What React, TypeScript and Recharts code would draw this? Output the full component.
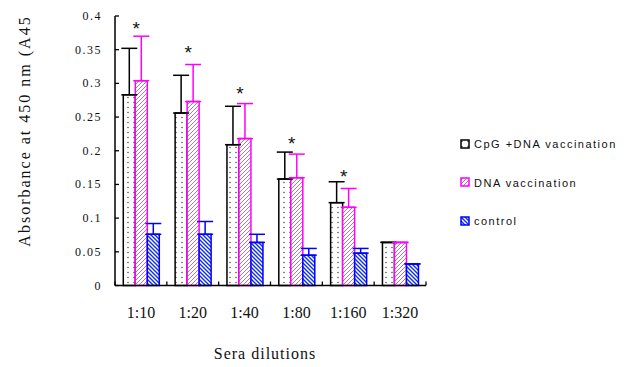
import React from 'react';
import { BarChart, Bar, XAxis, YAxis, ErrorBar, LabelList } from 'recharts';

const categories = ['1:10', '1:20', '1:40', '1:80', '1:160', '1:320'];
const cpgValues = [0.283, 0.256, 0.209, 0.158, 0.123, 0.064];
const cpgErrors = [0.069, 0.056, 0.057, 0.040, 0.031, 0];
const dnaValues = [0.304, 0.273, 0.218, 0.160, 0.116, 0.064];
const dnaErrors = [0.066, 0.055, 0.052, 0.035, 0.028, 0];
const controlValues = [0.076, 0.076, 0.064, 0.045, 0.048, 0.032];
const controlErrors = [0.016, 0.019, 0.012, 0.010, 0.007, 0];
const starLevels: (number | null)[] = [0.388, 0.352, 0.291, 0.217, 0.169, null];
const yTicks = [0, 0.05, 0.1, 0.15, 0.2, 0.25, 0.3, 0.35, 0.4];
const yTickLabels = ['0', '0.05', '0.1', '0.15', '0.2', '0.25', '0.3', '0.35', '0.4'];
const seriesNames = ['CpG +DNA vaccination', 'DNA vaccination', 'control'];

const data = categories.map((c, i) => ({
  name: c,
  cpg: cpgValues[i],
  cpgErr: [0, cpgErrors[i]],
  dna: dnaValues[i],
  dnaErr: [0, dnaErrors[i]],
  ctrl: controlValues[i],
  ctrlErr: [0, controlErrors[i]],
  star: starLevels[i],
}));

const serif = '"Liberation Serif", "Times New Roman", serif';
const sans = '"Liberation Sans", Arial, sans-serif';

const Patterns = () => (
  <svg width={0} height={0} style={{ position: 'absolute' }}>
    <defs>
      <pattern id="dots" patternUnits="userSpaceOnUse" width={6} height={5}>
        <rect width={6} height={5} fill="#fff" />
        <circle cx={2} cy={2.5} r={0.7} fill="#333" />
      </pattern>
      <pattern id="hatchPink" patternUnits="userSpaceOnUse" width={4} height={4}>
        <rect width={4} height={4} fill="#fff" />
        <path d="M-1,1 l2,-2 M0,4 l4,-4 M3,5 l2,-2" stroke="#b06890" strokeWidth={0.9} />
      </pattern>
      <pattern id="hatchBlue" patternUnits="userSpaceOnUse" width={4} height={4}>
        <rect width={4} height={4} fill="#fff" />
        <path d="M-1,3 l2,2 M0,0 l4,4 M3,-1 l2,2" stroke="#0a2cff" strokeWidth={1.4} />
      </pattern>
    </defs>
  </svg>
);

const YTick = (props: any) => {
  const { x, y, payload } = props;
  const ax = x + 8;
  return (
    <g>
      <line x1={ax} y1={y} x2={ax + 4} y2={y} stroke="#000" strokeWidth={1.3} />
      <text x={ax - 13} y={y + 4} textAnchor="end" fontFamily={serif} fontSize={12} letterSpacing={1.5} fill="#111">
        {yTickLabels[yTicks.indexOf(payload.value)] ?? String(payload.value)}
      </text>
    </g>
  );
};

const XTick = (props: any) => {
  const { x, y, payload, index } = props;
  const ay = y - 8;
  const off = payload.offset ?? 25.9;
  return (
    <g>
      <line x1={x - off} y1={ay} x2={x - off} y2={ay - 4} stroke="#000" strokeWidth={1.3} />
      {index === categories.length - 1 && (
        <line x1={x + off} y1={ay} x2={x + off} y2={ay - 4} stroke="#000" strokeWidth={1.3} />
      )}
      <text x={x} y={ay + 32} textAnchor="middle" fontFamily={serif} fontSize={16} fill="#111">
        {payload.value}
      </text>
    </g>
  );
};

const Star = (props: any) => {
  const { x, y, width, height, value, index } = props;
  if (value == null) return null;
  const v = cpgValues[index];
  const ppu = height / v;
  const sy = y + height - value * ppu;
  return (
    <text x={x + width + 1} y={sy + 11} textAnchor="middle" fontFamily={sans} fontSize={19} fill="#111">
      *
    </text>
  );
};

const swatches = [
  { fill: 'url(#dots)', stroke: '#000' },
  { fill: 'url(#hatchPink)', stroke: '#ff00ff' },
  { fill: 'url(#hatchBlue)', stroke: '#0000ff' },
];

const LegendBox = () => (
  <div style={{ position: 'absolute', left: 460, top: 125 }}>
    {seriesNames.map((n, i) => (
      <div key={n} style={{ display: 'flex', alignItems: 'center', height: 38.5 }}>
        <svg width={11} height={11} style={{ marginRight: 3 }}>
          <rect x={1} y={1} width={8} height={8} fill={swatches[i].fill} stroke={swatches[i].stroke} strokeWidth={1.5} />
        </svg>
        <span style={{ fontFamily: sans, fontSize: 11, letterSpacing: 1.5, color: '#111', whiteSpace: 'nowrap' }}>{n}</span>
      </div>
    ))}
  </div>
);

export default function App() {
  return (
    <div style={{ position: 'absolute', left: 0, top: 0, width: 633, height: 367, background: '#fff' }}>
      <Patterns />
      <BarChart
        width={633}
        height={367}
        data={data}
        margin={{ top: 16, right: 207, left: 55, bottom: 51.5 }}
        barCategoryGap="16%"
        barGap={0}
      >
        <XAxis
          dataKey="name"
          height={30}
          tickSize={0}
          tickMargin={8}
          tickLine={false}
          tick={<XTick />}
          interval={0}
          axisLine={{ stroke: '#000', strokeWidth: 1.5 }}
          label={{
            content: () => (
              <text x={265} y={359} textAnchor="middle" fontFamily={serif} fontSize={16} letterSpacing={1} fill="#111">
                Sera dilutions
              </text>
            ),
          }}
        />
        <YAxis
          width={60}
          domain={[0, 0.4]}
          ticks={yTicks}
          tickSize={0}
          tickMargin={8}
          tickLine={false}
          tick={<YTick />}
          interval={0}
          axisLine={{ stroke: '#000', strokeWidth: 1.5 }}
          label={{
            content: () => (
              <text
                x={0}
                y={0}
                transform="translate(30,131) rotate(-90)"
                textAnchor="middle"
                fontFamily={serif}
                fontSize={16}
                letterSpacing={2}
                fill="#111"
              >
                Absorbance at 450 nm (A45
              </text>
            ),
          }}
        />
        <Bar dataKey="cpg" name={seriesNames[0]} fill="url(#dots)" stroke="#000" strokeWidth={1.5} isAnimationActive={false}>
          <ErrorBar dataKey="cpgErr" width={8} stroke="#000" strokeWidth={1.5} direction="y" />
          <LabelList dataKey="star" content={<Star />} />
        </Bar>
        <Bar dataKey="dna" name={seriesNames[1]} fill="url(#hatchPink)" stroke="#ff00ff" strokeWidth={1.5} isAnimationActive={false}>
          <ErrorBar dataKey="dnaErr" width={8} stroke="#ff00ff" strokeWidth={1.5} direction="y" />
        </Bar>
        <Bar dataKey="ctrl" name={seriesNames[2]} fill="url(#hatchBlue)" stroke="#0000ff" strokeWidth={1.5} isAnimationActive={false}>
          <ErrorBar dataKey="ctrlErr" width={8} stroke="#0000ff" strokeWidth={1.5} direction="y" />
        </Bar>
      </BarChart>
      <LegendBox />
    </div>
  );
}
